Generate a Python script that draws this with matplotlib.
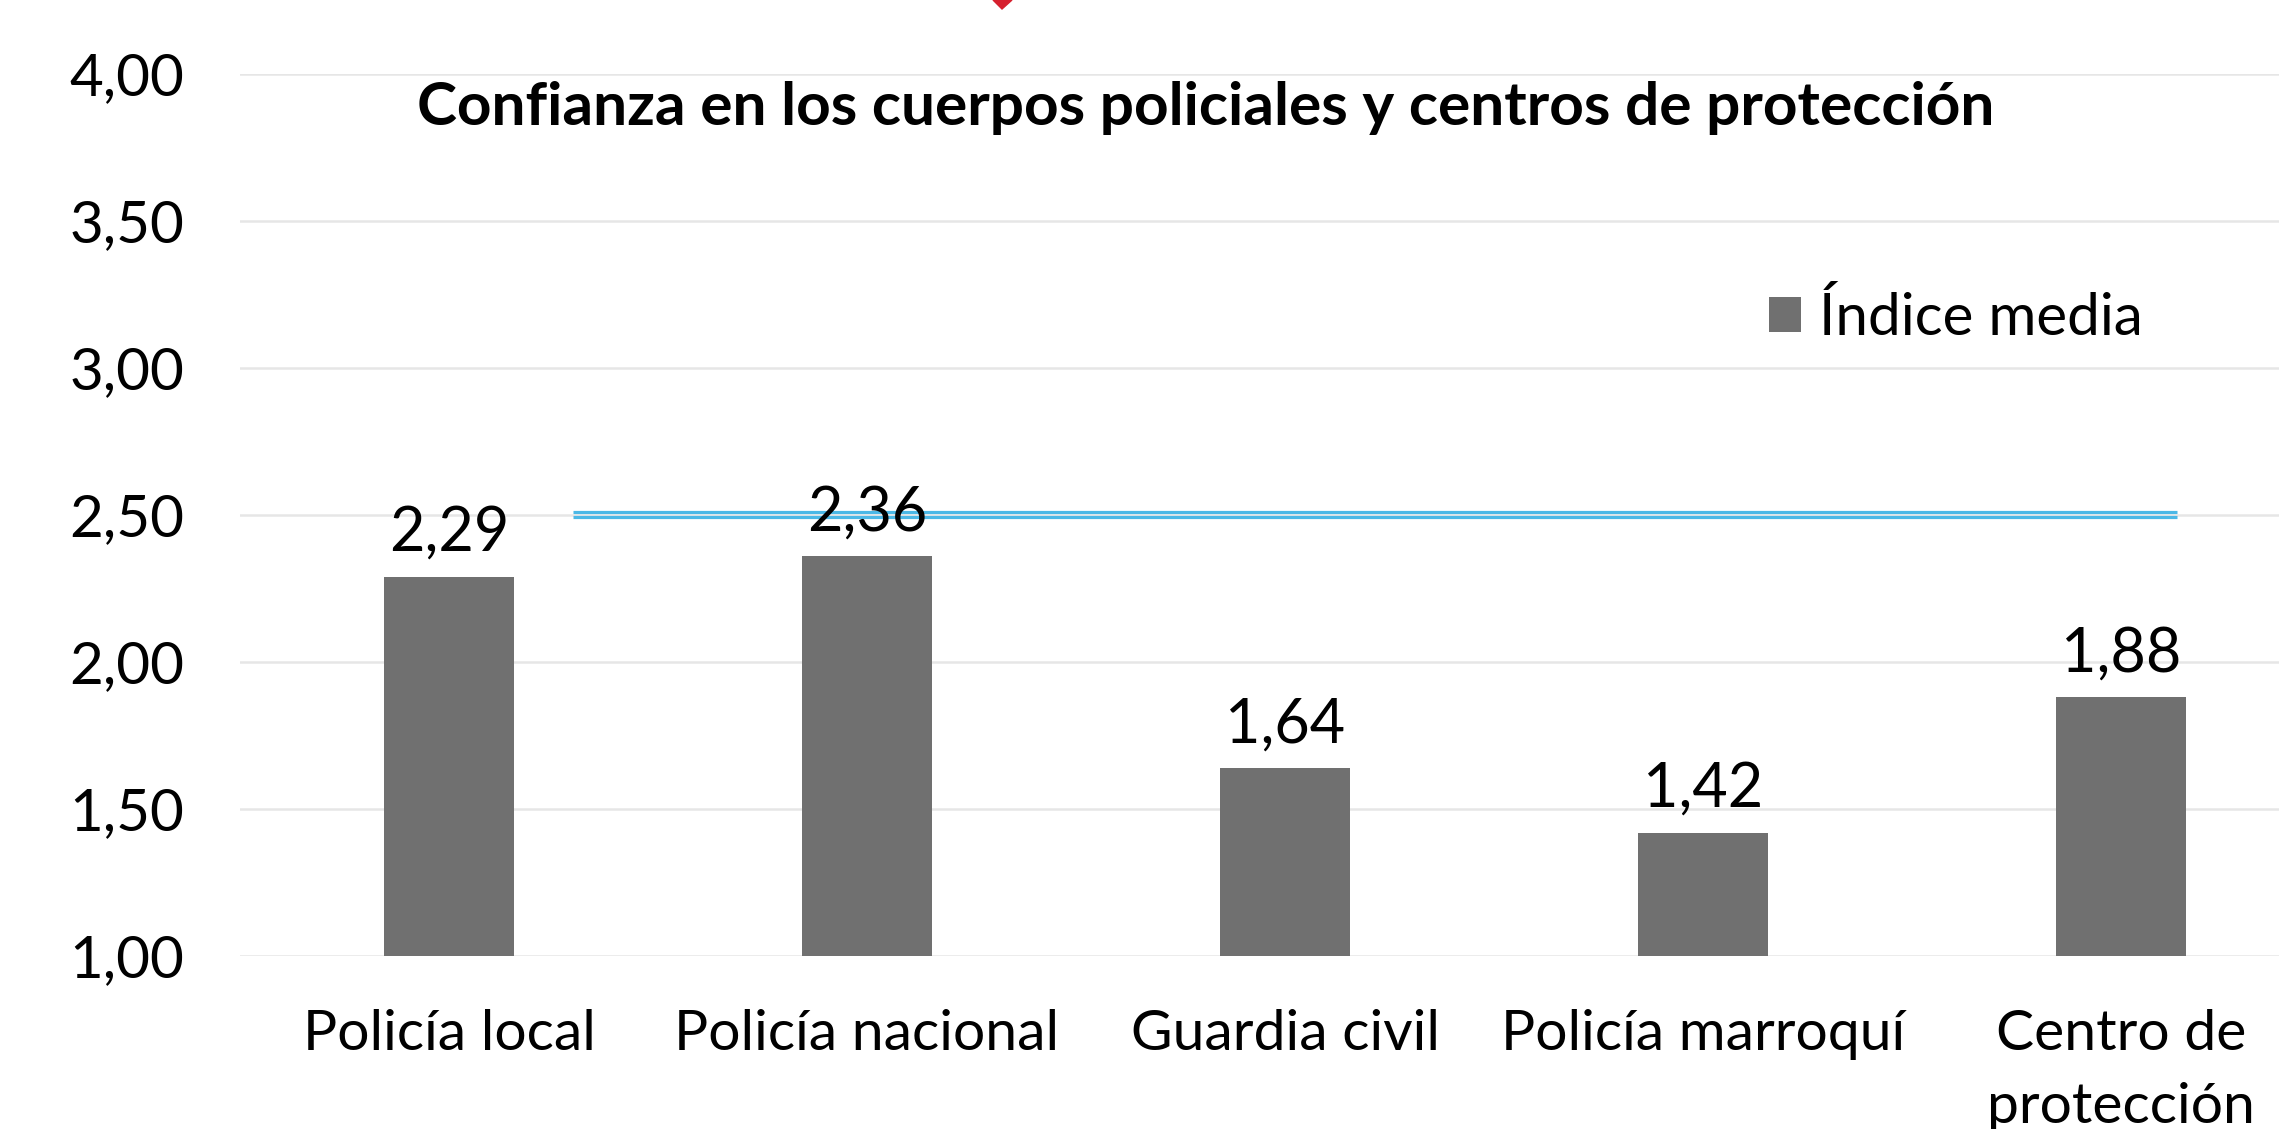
import matplotlib.pyplot as plt
from matplotlib.ticker import FuncFormatter
from matplotlib.patches import Polygon

CATEGORIES = ["Policía local", "Policía nacional", "Guardia civil",
              "Policía marroquí", "Centro de\nprotección"]
VALUES = [2.29, 2.36, 1.64, 1.42, 1.88]
REFERENCE = 2.50
Y_TICKS = [1.0, 1.5, 2.0, 2.5, 3.0, 3.5, 4.0]

BAR_COLOR = "#707070"
GRID_COLOR = "#E6E6E6"
REF_COLOR = "#4BB8E6"

plt.rcParams["font.family"] = ["Lato", "DejaVu Sans"]

fig = plt.figure(figsize=(22.79, 11.29), dpi=100)
ax = fig.add_axes([0.1053, 0.1532, 0.9171, 0.7813])

x = range(len(CATEGORIES))
bars = ax.bar(x, VALUES, width=0.313, color=BAR_COLOR, label="Índice media", zorder=3)

for xi, v in zip(x, VALUES):
    ax.text(xi, v + 0.05, f"{v:.2f}".replace(".", ","), ha="center", va="bottom",
            fontsize=44, fontweight="normal", color="black", zorder=4)

# double reference line at 2,50
ax.plot([0.297, 4.134], [REFERENCE + 0.0085, REFERENCE + 0.0085], color=REF_COLOR,
        linewidth=2.3, solid_capstyle="butt", zorder=2)
ax.plot([0.297, 4.134], [REFERENCE - 0.0085, REFERENCE - 0.0085], color=REF_COLOR,
        linewidth=2.3, solid_capstyle="butt", zorder=2)

ax.set_xlim(-0.5, 4.5)
ax.set_ylim(1.0, 4.0)
ax.set_yticks(Y_TICKS)
ax.yaxis.set_major_formatter(FuncFormatter(lambda v, _: f"{v:.2f}".replace(".", ",")))
ax.set_xticks(list(x))
ax.set_xticklabels(CATEGORIES)
ax.tick_params(axis="y", length=0, pad=40, labelsize=42)
ax.tick_params(axis="x", length=0, pad=38, labelsize=41)
for lbl in ax.get_xticklabels():
    lbl.set_linespacing(1.55)

ax.grid(axis="y", color=GRID_COLOR, linewidth=1.8, zorder=0)
ax.set_axisbelow(True)
for s in ax.spines.values():
    s.set_visible(False)

fig.text(0.529, 0.904, "Confianza en los cuerpos policiales y centros de protección",
         ha="center", va="center", fontsize=43.5, fontweight="bold")

ax.legend(loc="center left", bbox_to_anchor=(0.7316, 0.723), frameon=False,
          handlelength=0.55, handleheight=0.55, handletextpad=0.3,
          borderaxespad=0, borderpad=0, prop={"family": "Lato", "weight": "normal", "size": 42})

# fragment of a logo cut at the top edge
fig.add_artist(Polygon([[993 / 2279, 1.0], [1012 / 2279, 1.0], [1002 / 2279, 1 - 9 / 1129]],
                       closed=True, transform=fig.transFigure, color="#D6202E"))

fig.savefig("out.png", dpi=100)
